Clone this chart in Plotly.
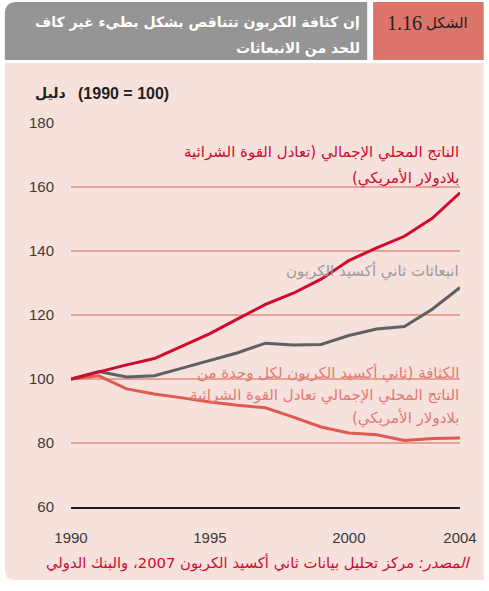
import plotly.graph_objects as go

# ---------------- data ----------------
years = list(range(1990, 2005))
gdp = [100, 102.3, 104.4, 106.4, 110.3, 114.2, 118.8, 123.3, 126.8, 131.2, 137.0, 141.0, 144.6, 150.2, 158.2]
co2 = [100, 102.3, 100.6, 101.0, 103.4, 105.7, 108.2, 111.2, 110.6, 110.8, 113.6, 115.6, 116.4, 121.8, 128.6]
intensity = [100, 101.0, 96.9, 95.3, 94.1, 92.8, 91.8, 91.0, 88.1, 85.0, 83.1, 82.6, 80.8, 81.4, 81.6]

y_ticks = [60, 80, 100, 120, 140, 160, 180]
x_ticks = [1990, 1995, 2000, 2004]

title_lines = ["إن كثافة الكربون تتناقص بشكل بطيء غير كاف", "للحد من الانبعاثات"]
fig_word = "الشكل"
fig_num = "1.16"
y_title_ar = "دليل"
y_title_num = "(1990 = 100)"
gdp_label = ["الناتج المحلي الإجمالي (تعادل القوة الشرائية", "بلادولار الأمريكي)"]
co2_label = ["انبعاثات ثاني أكسيد الكربون"]
int_label = ["الكثافة (ثاني أكسيد الكربون لكل وحدة من",
             "الناتج المحلي الإجمالي تعادل القوة الشرائية",
             "بلادولار الأمريكي)"]
source_italic = "المصدر:"
source_rest = " مركز تحليل بيانات ثاني أكسيد الكربون 2007، والبنك الدولي"

# ---------------- layout geometry ----------------
W, H = 489, 591
L, R, T, B = 71, 465, 123, 507


def px(x):
    return (x - L) / (R - L)


def py(y):
    return (B - y) / (B - T)


RLM = "\u200f"

AR_FONT = "DejaVu Sans, Liberation Sans, sans-serif"
NUM_FONT = "Liberation Sans, Arial, sans-serif"

fig = go.Figure()
fig.add_trace(go.Scatter(x=years, y=intensity, mode="lines",
                         line=dict(color="#e05a4f", width=3), hoverinfo="skip"))
fig.add_trace(go.Scatter(x=years, y=co2, mode="lines",
                         line=dict(color="#5f6062", width=3), hoverinfo="skip"))
fig.add_trace(go.Scatter(x=years, y=gdp, mode="lines",
                         line=dict(color="#cf0a2c", width=3), hoverinfo="skip"))

shapes = []
# pink panel with rounded bottom-left corner
r = 10
shapes.append(dict(
    type="path", xref="paper", yref="paper", layer="below",
    path=(f"M {px(4)} {py(63)} L {px(489)} {py(63)} L {px(489)} {py(580)} "
          f"L {px(4 + r)} {py(580)} Q {px(4)} {py(580)} {px(4)} {py(580 - r)} Z"),
    fillcolor="#f7e1dc", line=dict(width=0)))
# gray header with rounded top-left corner
shapes.append(dict(
    type="path", xref="paper", yref="paper", layer="below",
    path=(f"M {px(4)} {py(2 + 12)} Q {px(4)} {py(2)} {px(16)} {py(2)} "
          f"L {px(371)} {py(2)} L {px(371)} {py(60)} L {px(4)} {py(60)} Z"),
    fillcolor="#959595", line=dict(width=0)))
# red header box
shapes.append(dict(
    type="rect", xref="paper", yref="paper", layer="below",
    x0=px(377), x1=px(489), y0=py(60), y1=py(2),
    fillcolor="#dd7469", line=dict(width=0)))

annotations = []


def add_lines(lines, x_right, ys, size, color, bold=False):
    for s, yy in zip(lines, ys):
        t = RLM + s + RLM
        if bold:
            t = "<b>" + t + "</b>"
        annotations.append(dict(
            xref="paper", yref="paper", x=px(x_right), y=py(yy),
            xanchor="right", yanchor="middle", text=t, showarrow=False,
            font=dict(family=AR_FONT, size=size, color=color)))


add_lines(title_lines, 366, [23, 48], 14, "white", bold=True)
annotations.append(dict(
    xref="paper", yref="paper", x=px(475), y=py(23), xanchor="right", yanchor="middle",
    text=fig_word, showarrow=False,
    font=dict(family=AR_FONT, size=15, color="#231f20")))
annotations.append(dict(
    xref="paper", yref="paper", x=px(429), y=py(23), xanchor="right", yanchor="middle",
    text=fig_num, showarrow=False,
    font=dict(family="Liberation Serif, Times New Roman, serif", size=20, color="#231f20")))
# y-axis title
annotations.append(dict(
    xref="paper", yref="paper", x=px(68), y=py(93), xanchor="right", yanchor="middle",
    text="<b>" + y_title_ar + "</b>", showarrow=False,
    font=dict(family=AR_FONT, size=14, color="#231f20")))
annotations.append(dict(
    xref="paper", yref="paper", x=px(76), y=py(93), xanchor="left", yanchor="middle",
    text="<b>" + y_title_num + "</b>", showarrow=False,
    font=dict(family=NUM_FONT, size=16, color="#231f20")))
# series labels
add_lines(gdp_label, 466, [152, 178], 15, "#cf0a2c")
add_lines(co2_label, 466, [271], 15, "#9a9a9a")
add_lines(int_label, 466, [373, 395, 418], 15, "#e07a72")
# source
annotations.append(dict(
    xref="paper", yref="paper", x=px(478), y=py(562), xanchor="right", yanchor="middle",
    text=RLM + "<i>" + source_italic + "</i>" + source_rest + RLM, showarrow=False,
    font=dict(family=AR_FONT, size=14.8, color="#cf0a2c")))

fig.update_layout(
    width=W, height=H,
    margin=dict(l=L, r=W - R, t=T, b=H - B, pad=0),
    paper_bgcolor="white", plot_bgcolor="rgba(0,0,0,0)",
    showlegend=False,
    shapes=shapes, annotations=annotations,
    xaxis=dict(range=[1990, 2004], tickvals=x_ticks, ticktext=[str(v) for v in x_ticks],
               showgrid=False, zeroline=False, showline=True, linecolor="#231f20",
               linewidth=2, ticks="", ticklabelstandoff=16,
               tickfont=dict(family=NUM_FONT, size=15, color="#3a3a3a")),
    yaxis=dict(range=[60, 180], tickvals=y_ticks, ticktext=[str(v) for v in y_ticks],
               showgrid=True, gridcolor="#e9a193", gridwidth=1.5, zeroline=False,
               showline=False, ticks="", ticklabelstandoff=16,
               tickfont=dict(family=NUM_FONT, size=15, color="#3a3a3a")),
)

fig.write_html("out.html", config={"displayModeBar": False},
               post_script="document.body.style.margin='0';")
